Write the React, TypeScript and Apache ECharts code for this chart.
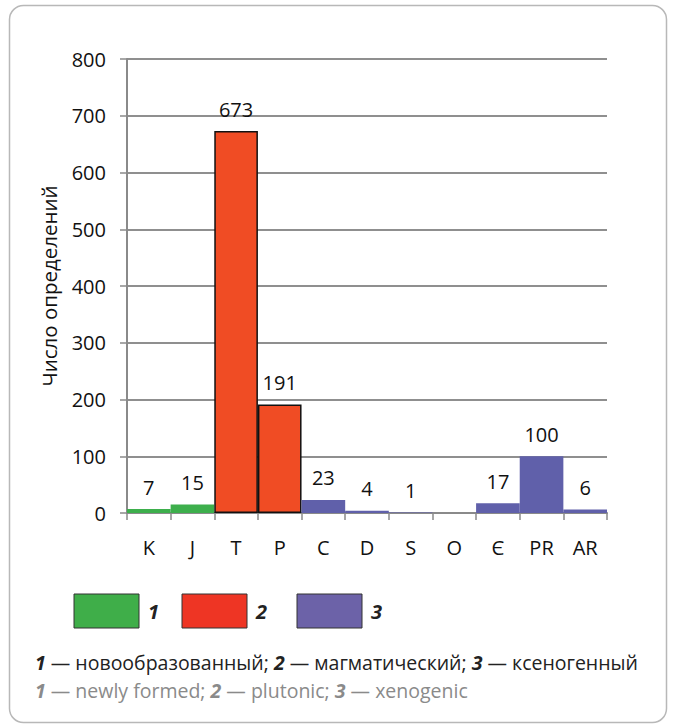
import React, { useEffect, useRef } from "react";
import * as echarts from "echarts";

const categories = ["K", "J", "T", "P", "C", "D", "S", "O", "Є", "PR", "AR"];
const counts = [7, 15, 673, 191, 23, 4, 1, 0, 17, 100, 6];
const groups = [1, 1, 2, 2, 3, 3, 3, 3, 3, 3, 3];
const legendKeys = ["1", "2", "3"];
const ruLabels = ["новообразованный", "магматический", "ксеногенный"];
const enLabels = ["newly formed", "plutonic", "xenogenic"];
const yAxisTitle = "Число определений";

const FONT = "Open Sans";
const barColors: Record<number, string> = { 1: "#3DAF4C", 2: "#F04C24", 3: "#6060AA" };
const legendColors = ["#3FAE49", "#EE3524", "#6C62A8"];

export default function App() {
  const ref = useRef<HTMLDivElement>(null);
  useEffect(() => {
    if (!ref.current) return;
    const chart = echarts.init(ref.current, undefined, { renderer: "svg" });
    const legendX = [74, 182, 297];
    const legendGraphics: any[] = [];
    legendKeys.forEach((k, i) => {
      legendGraphics.push({
        type: "rect",
        shape: { x: legendX[i], y: 594, width: 65, height: 34 },
        style: { fill: legendColors[i], stroke: "#333", lineWidth: 1 },
      });
      legendGraphics.push({
        type: "text",
        x: legendX[i] + 74,
        y: 611,
        style: {
          text: k,
          fontFamily: FONT,
          fontSize: 20,
          fontWeight: "bold",
          fontStyle: "italic",
          fill: "#222",
          verticalAlign: "middle",
        },
      });
    });
    const ruText = legendKeys.map((k, i) => `{b|${k}} — ${ruLabels[i]}`).join("; ");
    const enText = legendKeys.map((k, i) => `{b|${k}} — ${enLabels[i]}`).join("; ");
    const legendFs = 19.5;
    chart.setOption({
      animation: false,
      grid: { left: 127, right: 66, top: 59, bottom: 213 },
      xAxis: {
        type: "category",
        data: categories,
        axisLine: { lineStyle: { color: "#8a8a8a", width: 2 } },
        axisTick: { show: true, length: 7, lineStyle: { color: "#8a8a8a", width: 1.5 } },
        axisLabel: { color: "#111", fontFamily: FONT, fontSize: 20, margin: 24 },
      },
      yAxis: {
        type: "value",
        min: 0,
        max: 800,
        interval: 100,
        name: yAxisTitle,
        nameLocation: "middle",
        nameGap: 68,
        nameTextStyle: { color: "#111", fontFamily: FONT, fontSize: 20.5 },
        axisLine: { show: true, lineStyle: { color: "#8a8a8a", width: 2 } },
        axisTick: { show: true, length: 7, lineStyle: { color: "#8a8a8a", width: 1.5 } },
        axisLabel: { color: "#111", fontFamily: FONT, fontSize: 20, margin: 21 },
        splitLine: { lineStyle: { color: "#8f8f8f", width: 2 } },
      },
      series: [
        {
          type: "bar",
          barCategoryGap: "0%",
          data: counts.map((v, i) => ({
            value: v,
            itemStyle: {
              color: barColors[groups[i]],
              borderColor: groups[i] === 2 ? "#111" : barColors[groups[i]],
              borderWidth: groups[i] === 2 ? 1.5 : 0,
            },
          })),
          label: {
            show: true,
            position: "top",
            distance: 12,
            color: "#111",
            fontFamily: FONT,
            fontSize: 20,
            formatter: (p: any) => (p.value > 0 ? String(p.value) : ""),
          },
        },
      ],
      graphic: [
        {
          type: "rect",
          shape: { x: 9.5, y: 5.5, width: 657, height: 717, r: 14 },
          style: { fill: "none", stroke: "#b8b8b8", lineWidth: 1.5 },
          z: -1,
        },
        ...legendGraphics,
        {
          type: "text",
          x: 35,
          y: 662,
          style: {
            text: ruText,
            fontFamily: FONT,
            fontSize: legendFs,
            fill: "#222",
            verticalAlign: "middle",
            rich: { b: { fontWeight: "bold", fontStyle: "italic", fontFamily: FONT, fontSize: legendFs, fill: "#222" } },
          },
        },
        {
          type: "text",
          x: 35,
          y: 690,
          style: {
            text: enText,
            fontFamily: FONT,
            fontSize: legendFs,
            fill: "#8a8a8a",
            verticalAlign: "middle",
            rich: { b: { fontWeight: "bold", fontStyle: "italic", fontFamily: FONT, fontSize: legendFs, fill: "#8a8a8a" } },
          },
        },
      ],
    });
    return () => chart.dispose();
  }, []);
  return <div ref={ref} style={{ position: "absolute", left: 0, top: 0, width: 673, height: 726 }} />;
}
